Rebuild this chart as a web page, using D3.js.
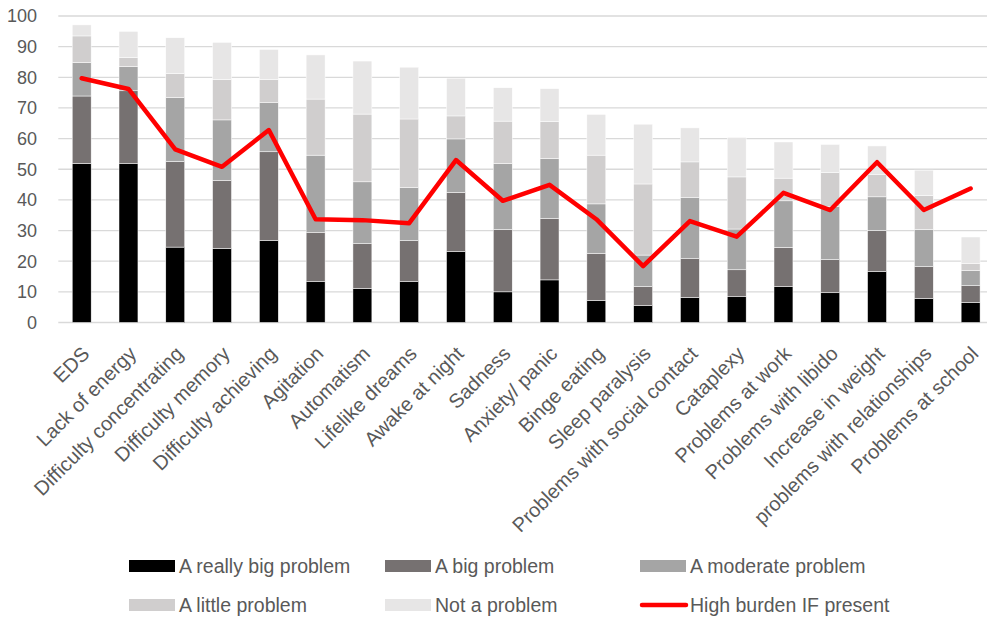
<!DOCTYPE html>
<html>
<head>
<meta charset="utf-8">
<script src="https://cdn.jsdelivr.net/npm/d3@7"></script>
<style>
  body { margin: 0; background: #fff; }
  text { font-family: "Liberation Sans", Arial, sans-serif; fill: #595959; }
</style>
</head>
<body>
<div class="canva"></div>
<script>
// data (percent)
const categories = ['EDS', 'Lack of energy', 'Difficulty concentrating', 'Difficulty memory',
  'Difficulty achieving', 'Agitation', 'Automatism', 'Lifelike dreams', 'Awake at night',
  'Sadness', 'Anxiety/ panic', 'Binge eating', 'Sleep paralysis', 'Problems with social contact',
  'Cataplexy', 'Problems at work', 'Problems with libido', 'Increase in weight',
  'problems with relationships', 'Problems at school'];

const reallyBig = [51.9, 51.8, 24.6, 24.2, 26.7, 13.3, 11.1, 13.3, 23.1, 10.0, 13.9, 7.2, 5.5, 8.2, 8.4, 11.7, 9.7, 16.6, 7.8, 6.6];
const big       = [22.0, 23.8, 27.9, 22.1, 29.0, 16.0, 14.6, 13.4, 19.3, 20.3, 20.0, 15.4, 6.2, 12.6, 8.8, 12.8, 10.8, 13.4, 10.4, 5.4];
const moderate  = [10.9, 7.9, 20.9, 19.8, 16.0, 25.3, 20.2, 17.3, 17.5, 21.6, 19.6, 16.1, 10.3, 19.9, 13.3, 15.2, 17.3, 11.0, 12.1, 4.9];
const little    = [8.7, 2.9, 7.8, 13.2, 7.6, 18.3, 22.1, 22.4, 7.5, 13.8, 12.1, 15.9, 23.2, 11.7, 17.0, 7.4, 11.1, 7.2, 11.1, 2.3];
const notProb   = [3.6, 8.6, 11.7, 12.1, 9.8, 14.4, 17.3, 16.9, 12.3, 10.9, 10.7, 13.3, 19.5, 11.1, 12.9, 11.8, 9.2, 9.4, 8.3, 8.7];
const highBurden = [79.7, 76.2, 56.5, 50.8, 62.8, 33.7, 33.4, 32.4, 53.0, 39.7, 44.9, 33.7, 18.4, 33.1, 28.0, 42.3, 36.7, 52.3, 36.7, 43.7];

const seriesNames = ['A really big problem', 'A big problem', 'A moderate problem', 'A little problem', 'Not a problem'];
const seriesValues = [reallyBig, big, moderate, little, notProb];
const colors = ['#000000', '#767171', '#a5a5a5', '#d0cece', '#e7e6e6'];
const yTicks = [0, 10, 20, 30, 40, 50, 60, 70, 80, 90, 100];

const width = 987, height = 619;

const svg = d3.select('.canva').append('svg')
    .attr('width', width)
    .attr('height', height);

// scales
const x = d3.scaleBand()
    .domain(categories)
    .range([58.3, 994])
    .paddingInner(0.595)
    .paddingOuter(0.2975);

const y = d3.scaleLinear()
    .domain([0, 100])
    .range([322.5, 16]);

// gridlines
svg.append('g')
  .selectAll('line')
  .data(yTicks)
  .enter().append('line')
    .attr('x1', 58.3)
    .attr('x2', 994)
    .attr('y1', d => y(d))
    .attr('y2', d => y(d))
    .attr('stroke', '#d9d9d9')
    .attr('stroke-width', 1.3);

// y tick labels
svg.append('g')
  .selectAll('text')
  .data(yTicks)
  .enter().append('text')
    .attr('x', 37)
    .attr('y', d => y(d))
    .attr('dy', '0.36em')
    .attr('text-anchor', 'end')
    .attr('font-size', 18)
    .text(d => d);

// stacked bars
const rows = categories.map((c, i) => {
  const r = { cat: c };
  seriesNames.forEach((s, j) => r[s] = seriesValues[j][i]);
  return r;
});
const stacked = d3.stack().keys(seriesNames)(rows);

svg.append('g')
  .selectAll('g')
  .data(stacked)
  .enter().append('g')
    .attr('fill', (d, i) => colors[i])
  .selectAll('rect')
  .data(d => d)
  .enter().append('rect')
    .attr('x', d => x(d.data.cat))
    .attr('width', x.bandwidth())
    .attr('y', d => y(d[1]))
    .attr('height', d => y(d[0]) - y(d[1]))
    .attr('stroke', '#fff')
    .attr('stroke-width', 0.5);

// high burden line
const line = d3.line()
    .x((d, i) => x(categories[i]) + x.bandwidth() / 2)
    .y(d => y(d));

svg.append('path')
    .datum(highBurden)
    .attr('d', line)
    .attr('fill', 'none')
    .attr('stroke', '#ff0000')
    .attr('stroke-width', 4.5)
    .attr('stroke-linejoin', 'round')
    .attr('stroke-linecap', 'round');

// x labels, rotated
svg.append('g')
  .selectAll('text')
  .data(categories)
  .enter().append('text')
    .attr('text-anchor', 'end')
    .attr('font-size', 20)
    .attr('transform', d => `translate(${x(d) + x.bandwidth() / 2 + 9}, 355) rotate(-45)`)
    .text(d => d);

// legend
const legendItems = [
  { name: seriesNames[0], color: colors[0], x: 129, y: 566 },
  { name: seriesNames[1], color: colors[1], x: 385, y: 566 },
  { name: seriesNames[2], color: colors[2], x: 640, y: 566 },
  { name: seriesNames[3], color: colors[3], x: 129, y: 605 },
  { name: seriesNames[4], color: colors[4], x: 385, y: 605 },
  { name: 'High burden IF present', color: '#ff0000', x: 640, y: 605, line: true }
];

const legend = svg.append('g')
  .selectAll('g')
  .data(legendItems)
  .enter().append('g')
    .attr('transform', d => `translate(${d.x}, ${d.y})`);

legend.filter(d => !d.line).append('rect')
    .attr('x', 0)
    .attr('y', -6)
    .attr('width', 46)
    .attr('height', 12)
    .attr('fill', d => d.color);

legend.filter(d => d.line).append('line')
    .attr('x1', 2)
    .attr('x2', 46)
    .attr('stroke', d => d.color)
    .attr('stroke-width', 4.5)
    .attr('stroke-linecap', 'round');

legend.append('text')
    .attr('x', 50)
    .attr('dy', '0.36em')
    .attr('font-size', 19.5)
    .text(d => d.name);
</script>
</body>
</html>
